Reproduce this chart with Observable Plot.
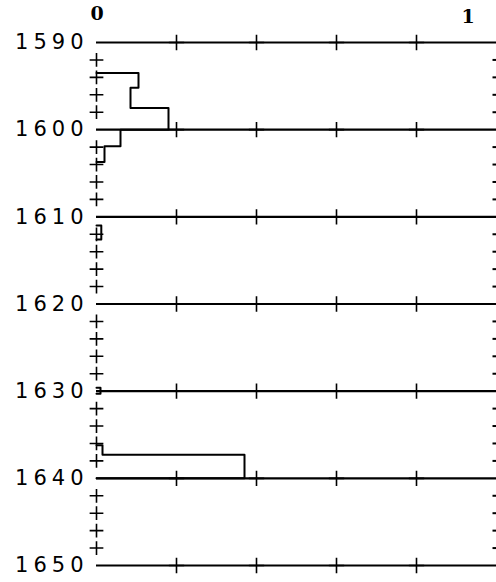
<!DOCTYPE html>
<html><head><meta charset="utf-8">
<script src="https://cdn.jsdelivr.net/npm/d3@7"></script>
<script src="https://cdn.jsdelivr.net/npm/@observablehq/plot@0.6"></script>
<style>
body{margin:0;background:#fff;}
#chart text{letter-spacing:5px;}
</style>
</head><body><div id="chart"></div>
<script>
// decade tick labels (rows)
const decades = [1590, 1600, 1610, 1620, 1630, 1640, 1650];
// minor year ticks on the left axis / right edge (every 2 years)
const minorYears = d3.range(1590, 1651, 2);
// x tick positions along each decade line
const xTicks = [0.2, 0.4, 0.6, 0.8];
// x labels
const xLabelValues = [0, 1];
const xLabelTexts = ["0", "1"];
// step series: episode id, year at which value starts, value
const stepEpisode = ["a","a","a","a","a","a","a", "b","b","b", "c","c","c", "d","d","d","d"];
const stepYears  = [1593.5,1593.5,1595.2,1597.5,1600,1601.9,1603.7, 1611,1611,1612.6, 1629.6,1629.6,1630.3, 1636.2,1636.2,1637.3,1640];
const stepValues = [0,     0.105, 0.085, 0.18,  0.06,0.02,  0,      0,   0.012,0,     0,     0.01,  0,      0,     0.015, 0.37,  0];

const steps = stepYears.map((y, i) => ({ep: stepEpisode[i], year: y, value: stepValues[i]}));
const grid = decades.flatMap(d => xTicks.map(x => ({year: d, x})));

const plot = Plot.plot({
  width: 496, height: 582,
  marginLeft: 96, marginRight: 0, marginTop: 42, marginBottom: 17,
  x: {domain: [0, 1], axis: null},
  y: {domain: [1590, 1650], reverse: true, axis: null},
  marks: [
    Plot.ruleY(decades, {x1: 0, x2: 1, stroke: "#000", strokeWidth: 2.2}),
    Plot.dot(grid, {x: "x", y: "year", symbol: "plus", r: 5, stroke: "#000", strokeWidth: 1.6}),
    Plot.dot(minorYears.filter(y => y % 10 !== 0), {x: 0, y: d => d, symbol: "plus", r: 4.5, stroke: "#000", strokeWidth: 1.6}),
    Plot.link(minorYears.filter(y => y % 10 !== 0), {x1: 0.99, x2: 1, y1: d => d, y2: d => d, stroke: "#000", strokeWidth: 2}),
    Plot.line(steps, {x: "value", y: "year", z: "ep", curve: "step-before", stroke: "#000", strokeWidth: 2}),
    Plot.text(decades, {x: 0, y: d => d, text: d => String(d), textAnchor: "end", dx: -8, fontSize: 21, fontFamily: "DejaVu Sans", fill: "#000"}),
    Plot.text(xLabelValues, {x: d => d, y: 1590, text: (d, i) => xLabelTexts[i], dy: -29, dx: 3, fontSize: 19, fontFamily: "DejaVu Serif", fontWeight: "bold", fill: "#000", filter: d => d === 0}),
    Plot.text(xLabelValues, {x: d => d, y: 1590, text: (d, i) => xLabelTexts[i], dy: -26, dx: -26, fontSize: 19, fontFamily: "DejaVu Serif", fontWeight: "bold", fill: "#000", filter: d => d === 1})
  ]
});
document.getElementById("chart").appendChild(plot);
</script>
</body></html>
